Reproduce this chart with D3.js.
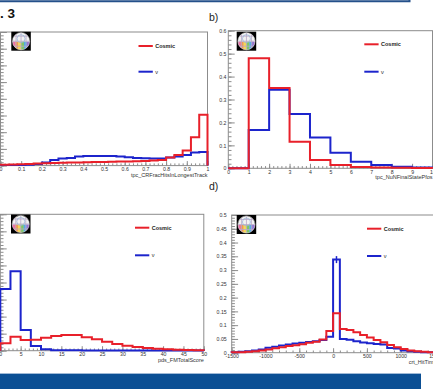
<!DOCTYPE html>
<html>
<head>
<meta charset="utf-8">
<script src="https://cdn.jsdelivr.net/npm/d3@7"></script>
<style>
  body { margin: 0; background: #fff; overflow: hidden; }
  svg { display: block; font-family: "Liberation Sans", Arial, sans-serif; }
</style>
</head>
<body>
<svg id="chart" width="433" height="389"></svg>
<script>
// a) tpc_CRFracHitsInLongestTrack, 25 bins from 0 to 1
const aCosmic = [0.005, 0.006, 0.008, 0.010, 0.012, 0.014, 0.015, 0.017, 0.018, 0.019, 0.020, 0.021, 0.022,
                 0.023, 0.024, 0.025, 0.026, 0.028, 0.030, 0.034, 0.048, 0.063, 0.090, 0.170, 0.304];
const aNu = [0.003, 0.003, 0.004, 0.005, 0.010, 0.018, 0.034, 0.042, 0.046, 0.054, 0.058, 0.058, 0.058,
             0.058, 0.054, 0.050, 0.046, 0.044, 0.042, 0.042, 0.048, 0.054, 0.064, 0.078, 0.082];
const aXTicks = [0, 0.1, 0.2, 0.3, 0.4, 0.5, 0.6, 0.7, 0.8, 0.9, 1];
const aYTicks = [0, 0.1, 0.2, 0.3, 0.4, 0.5, 0.6, 0.7, 0.8];

// b) tpc_NuNFinalStatePfos, 10 bins from 0 to 10
const bCosmic = [0, 0.480, 0.350, 0.116, 0.036, 0.014, 0.006, 0.004, 0.002, 0.001];
const bNu = [0, 0.167, 0.342, 0.237, 0.134, 0.068, 0.029, 0.014, 0.007, 0.004];
const bXTicks = [0, 1, 2, 3, 4, 5, 6, 7, 8, 9, 10];
const bYTicks = [0, 0.1, 0.2, 0.3, 0.4, 0.5, 0.6];

// c) pds_FMTotalScore, 20 bins from 0 to 50
const cCosmic = [0.043, 0.082, 0.063, 0.064, 0.076, 0.086, 0.092, 0.092, 0.079, 0.067,
                 0.053, 0.039, 0.029, 0.022, 0.016, 0.012, 0.008, 0.006, 0.004, 0.002];
const cNu = [0.362, 0.466, 0.121, 0.028, 0.008, 0.003, 0.002, 0.002, 0.001, 0.001,
             0.001, 0.001, 0.001, 0.001, 0.001, 0.001, 0.001, 0.001, 0.001, 0.001];
const cXTicks = [0, 5, 10, 15, 20, 25, 30, 35, 40, 45, 50];
const cYTicks = [0, 0.1, 0.2, 0.3, 0.4, 0.5, 0.6, 0.7, 0.8];

// d) crt_HitTime, 30 bins from -1500 to 1500
const dCosmic = [0.002, 0.002, 0.003, 0.005, 0.008, 0.012, 0.016, 0.020, 0.024, 0.027, 0.031, 0.036, 0.040, 0.048, 0.079,
                 0.143, 0.086, 0.082, 0.074, 0.064, 0.055, 0.046, 0.038, 0.028, 0.020, 0.013, 0.008, 0.005, 0.003, 0.002];
const dNu = [0.002, 0.003, 0.005, 0.008, 0.012, 0.018, 0.022, 0.026, 0.030, 0.033, 0.036, 0.039, 0.042, 0.046, 0.058,
             0.338, 0.050, 0.047, 0.042, 0.037, 0.034, 0.032, 0.030, 0.017, 0.015, 0.008, 0.005, 0.003, 0.002, 0.002];
const dXTicks = [-1500, -1000, -500, 0, 500, 1000, 1500];
const dYTicks = [0, 0.05, 0.1, 0.15, 0.2, 0.25, 0.3, 0.35, 0.4, 0.45, 0.5];

const seriesNames = ["Cosmic", "\u03bd"];
const RED = "#e8202a", BLUE = "#1c24cc", FRAME = "#8c8c8c", TEXT = "#333";

const svg = d3.select("#chart");

// slide decoration
svg.append("path").attr("d", "M0,1.2H409.5V-2").attr("fill", "none").attr("stroke", "#24508a").attr("stroke-width", 2);
svg.append("rect").attr("x", 0).attr("y", 374).attr("width", 421).attr("height", 15).attr("fill", "#0b4f94");
svg.append("line").attr("x1", 0).attr("x2", 421).attr("y1", 373.5).attr("y2", 373.5).attr("stroke", "#9fb9d6").attr("stroke-width", 1);
svg.append("text").attr("x", 0).attr("y", 18).attr("font-size", 13.5).attr("font-weight", "bold").attr("fill", "#111").text(". 3");
svg.append("text").attr("x", 209).attr("y", 21).attr("font-size", 10.5).attr("fill", "#222").text("b)");
svg.append("text").attr("x", 209).attr("y", 190).attr("font-size", 10.5).attr("fill", "#222").text("d)");

// y labels of a) and c) fall left of the picture, so they are not drawn
const panels = [
  { lo: 0, hi: 1, n: 25, cosmic: aCosmic, nu: aNu, xTicks: aXTicks, yTicks: aYTicks, xMinor: 0.02, yMinor: 0.02,
    xr: [0.5, 207.5], yr: [165.6, 32], yDom: [0, 0.8], title: "tpc_CRFracHitsInLongestTrack", titleAnchor: "end",
    legX: 138.5, legY: [46, 71.7], logo: [11.3, 31.7], yPad: 2, yLabels: false },
  { lo: 0, hi: 10, n: 10, cosmic: bCosmic, nu: bNu, xTicks: bXTicks, yTicks: bYTicks, xMinor: 0.2, yMinor: 0.02,
    xr: [228.3, 432.5], yr: [168.3, 30.7], yDom: [0, 0.6], title: "tpc_NuNFinalStatePfos", titleAnchor: "end",
    legX: 364.3, legY: [44.3, 71.7], logo: [236.7, 31.7], yPad: 1.8, yLabels: true },
  { lo: 0, hi: 50, n: 20, cosmic: cCosmic, nu: cNu, xTicks: cXTicks, yTicks: cYTicks, xMinor: 1, yMinor: 0.02,
    xr: [0.3, 203.8], yr: [350.7, 214.3], yDom: [0, 0.8], title: "pds_FMTotalScore", titleAnchor: "end",
    legX: 135, legY: [227.7, 255.3], logo: [11, 214.5], yPad: 2, yLabels: false },
  { lo: -1500, hi: 1500, n: 30, cosmic: dCosmic, nu: dNu, xTicks: dXTicks, yTicks: dYTicks, xMinor: 100, yMinor: 0.01,
    xr: [231.7, 434.5], yr: [352.7, 215], yDom: [0, 0.5], title: "crt_HitTime", titleAnchor: "start", titleX: 408.7,
    legX: 367, legY: [228.7, 256], logo: [236.7, 215], yPad: 5, yLabels: true, errBar: true }
];

function minorVals(dom, step) {
  const out = [];
  for (let v = dom[0]; v <= dom[1] + step * 1e-3; v += step) out.push(+v.toFixed(6));
  return out;
}

function drawLogo(g, x0, y0) {
  const w = 19.5, h = 19, cx = x0 + w / 2, cy = y0 + h / 2, r = 8.6;
  g.append("rect").attr("x", x0).attr("y", y0).attr("width", w).attr("height", h).attr("fill", "#000");
  const id = "clip" + Math.round(x0) + "_" + Math.round(y0);
  g.append("clipPath").attr("id", id).append("circle").attr("cx", cx).attr("cy", cy).attr("r", r);
  const lg = g.append("g").attr("clip-path", `url(#${id})`);
  lg.append("circle").attr("cx", cx).attr("cy", cy).attr("r", r).attr("fill", "#f2f2f2");
  const cols = ["#e85a9b", "#f08a3a", "#f5d33a", "#6cc04a", "#3aa0e0", "#8a5cc8"];
  cols.forEach((c, i) => {
    lg.append("rect").attr("x", cx - r + i * (2 * r / cols.length)).attr("y", cy + 0.5)
      .attr("width", 2 * r / cols.length + 0.2).attr("height", r).attr("fill", c).attr("opacity", 0.85);
  });
  [-5, 0, 5].forEach(d => {
    lg.append("line").attr("x1", cx + d).attr("x2", cx + d).attr("y1", cy - r).attr("y2", cy + r).attr("stroke", "#b9a8c8").attr("stroke-width", 0.8);
    lg.append("line").attr("x1", cx - r).attr("x2", cx + r).attr("y1", cy + d).attr("y2", cy + d).attr("stroke", "#b9a8c8").attr("stroke-width", 0.8);
  });
  lg.append("circle").attr("cx", cx).attr("cy", cy - 2.5).attr("r", 4).attr("fill", "none").attr("stroke", "#9bb6d8").attr("stroke-width", 0.8);
  g.append("circle").attr("cx", cx).attr("cy", cy).attr("r", r).attr("fill", "none").attr("stroke", "#ddd").attr("stroke-width", 0.6);
}

function histLine(edges, vals, x, y) {
  const pts = [[edges[0], 0]];
  vals.forEach((v, i) => pts.push([edges[i], v]));
  pts.push([edges[edges.length - 1], vals[vals.length - 1]]);
  pts.push([edges[edges.length - 1], 0]);
  return d3.line().x(d => x(d[0])).y(d => y(d[1])).curve(d3.curveStepAfter)(pts);
}

panels.forEach(p => {
  const g = svg.append("g");
  const x = d3.scaleLinear().domain([p.lo, p.hi]).range(p.xr);
  const y = d3.scaleLinear().domain(p.yDom).range(p.yr);
  const edges = d3.range(p.n + 1).map(i => p.lo + (p.hi - p.lo) * i / p.n);
  const fh = p.yr[0] - p.yr[1], fw = p.xr[1] - p.xr[0];

  // frame
  g.append("rect").attr("x", p.xr[0]).attr("y", p.yr[1]).attr("width", fw).attr("height", fh)
    .attr("fill", "none").attr("stroke", FRAME).attr("stroke-width", 1);

  // x axis, ticks pointing up into the frame
  const xa = g.append("g").attr("transform", `translate(0,${p.yr[0]})`);
  xa.append("g").call(d3.axisBottom(x).tickValues(minorVals([p.lo, p.hi], p.xMinor)).tickSize(-2.2).tickSizeOuter(0).tickFormat(""));
  xa.append("g").call(d3.axisBottom(x).tickValues(p.xTicks).tickSize(-4.5).tickSizeOuter(0).tickPadding(1.8).tickFormat(d3.format("~g")));
  xa.selectAll(".domain").remove();
  xa.selectAll("line").attr("stroke", FRAME);
  xa.selectAll("text").attr("font-size", 5.2).attr("fill", TEXT).text(function () { return this.textContent.replace("\u2212", "-"); });

  // y axis, ticks pointing right into the frame
  const ya = g.append("g").attr("transform", `translate(${p.xr[0]},0)`);
  ya.append("g").call(d3.axisLeft(y).tickValues(minorVals(p.yDom, p.yMinor)).tickSize(-3.2).tickSizeOuter(0).tickFormat(""));
  ya.append("g").call(d3.axisLeft(y).tickValues(p.yTicks).tickSize(-6.4).tickSizeOuter(0).tickPadding(p.yPad)
    .tickFormat(p.yLabels ? d3.format("~g") : ""));
  ya.selectAll(".domain").remove();
  ya.selectAll("line").attr("stroke", FRAME);
  ya.selectAll("text").attr("font-size", 5.2).attr("fill", TEXT);
  if (!p.yLabels) ya.selectAll("text").remove();

  // axis title
  g.append("text").attr("x", p.titleX !== undefined ? p.titleX : p.xr[1]).attr("y", p.yr[0] + 11)
    .attr("text-anchor", p.titleAnchor).attr("font-size", 5.5).attr("fill", TEXT).text(p.title);

  // histograms
  g.append("path").attr("d", histLine(edges, p.nu, x, y)).attr("fill", "none").attr("stroke", BLUE).attr("stroke-width", 2);
  g.append("path").attr("d", histLine(edges, p.cosmic, x, y)).attr("fill", "none").attr("stroke", RED).attr("stroke-width", 2);

  if (p.errBar) {
    const k = p.nu.indexOf(d3.max(p.nu));
    const cx = x((edges[k] + edges[k + 1]) / 2), cy = y(p.nu[k]);
    g.append("line").attr("x1", cx).attr("x2", cx).attr("y1", cy - 3.5).attr("y2", cy + 3.5).attr("stroke", BLUE).attr("stroke-width", 1.5);
  }

  // legend
  [RED, BLUE].forEach((c, i) => {
    g.append("line").attr("x1", p.legX).attr("x2", p.legX + 14.3).attr("y1", p.legY[i]).attr("y2", p.legY[i])
      .attr("stroke", c).attr("stroke-width", 2);
    g.append("text").attr("x", p.legX + 16.7).attr("y", p.legY[i]).attr("dy", "0.35em")
      .attr("font-size", 5.5).attr("font-weight", i === 0 ? "bold" : "normal").attr("fill", "#222").text(seriesNames[i]);
  });

  drawLogo(g, p.logo[0], p.logo[1]);
});
</script>
</body>
</html>
